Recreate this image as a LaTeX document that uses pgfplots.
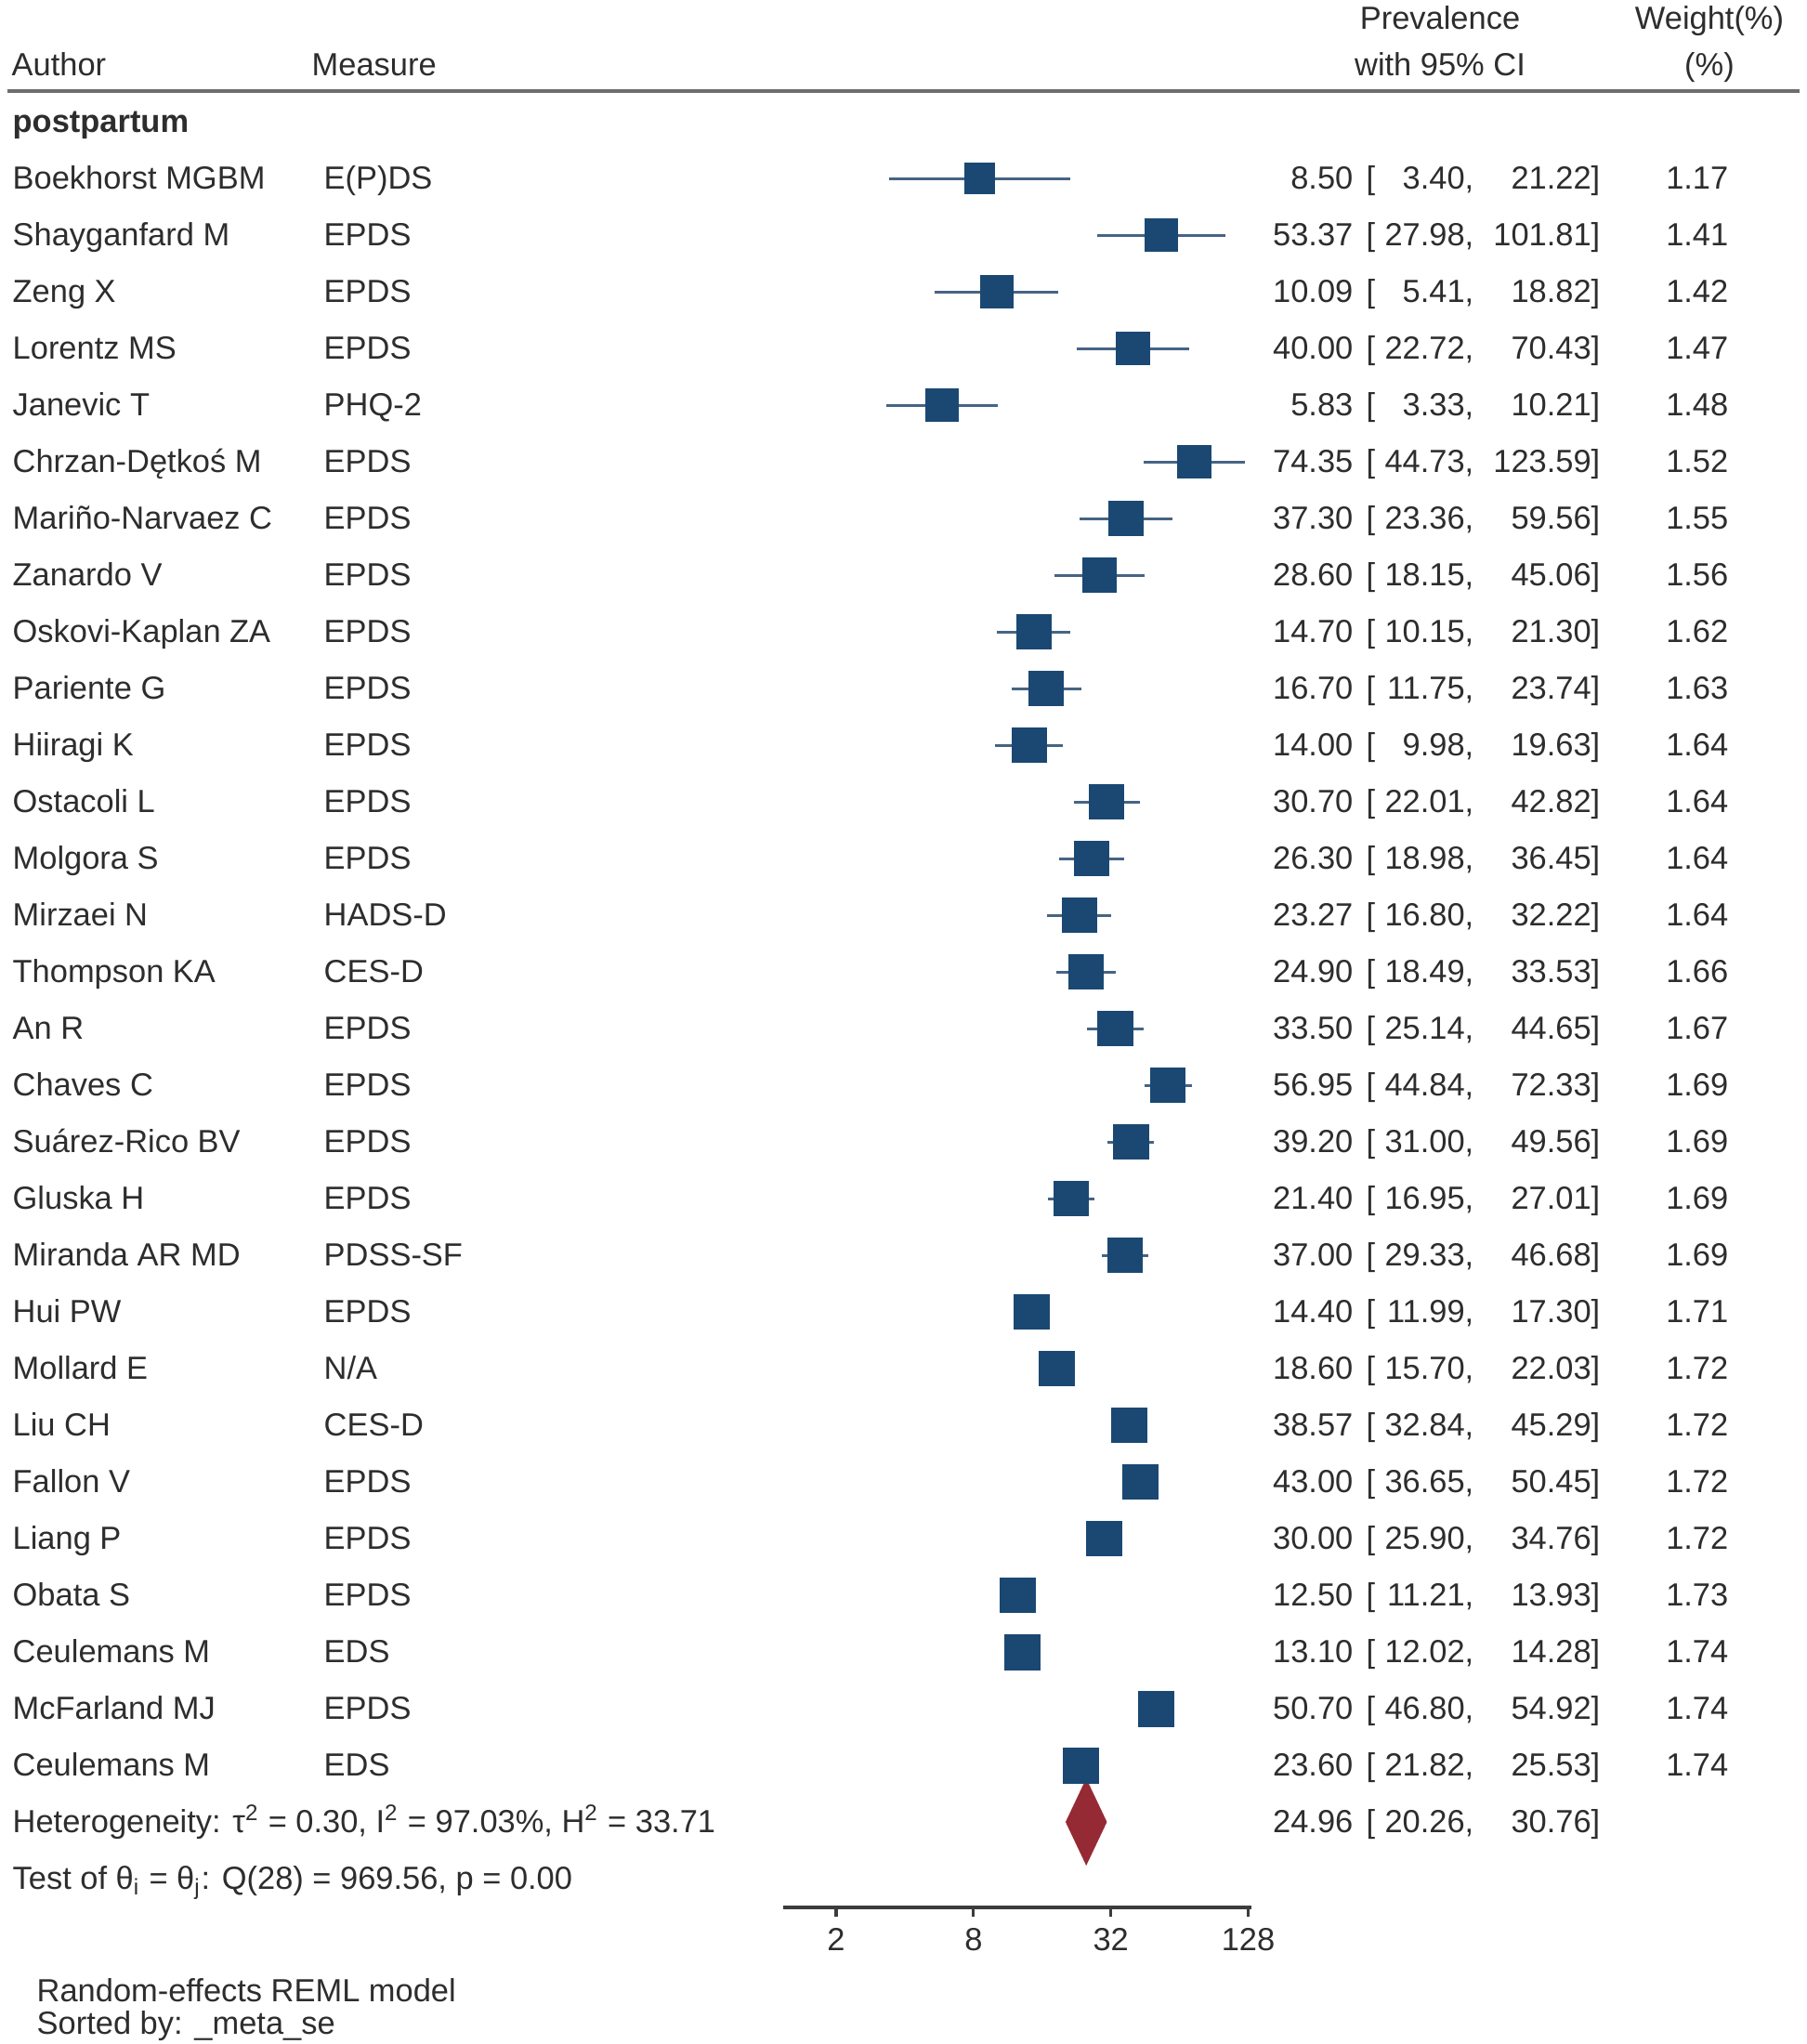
\documentclass[border=0pt]{standalone}
\usepackage{fontspec}
\setmainfont{Liberation Sans}
\usepackage{pgfplots}
\pgfplotsset{compat=1.18}
\definecolor{sqc}{RGB}{26,72,115}
\definecolor{cic}{RGB}{70,100,132}
\definecolor{dia}{RGB}{150,42,52}
\definecolor{txtc}{RGB}{45,45,45}
\definecolor{rulec}{RGB}{110,110,110}
\definecolor{axc}{RGB}{60,60,60}
\newcommand{\fs}{\fontsize{9.8pt}{11.8pt}\selectfont}
\tikzset{t/.style={inner sep=0pt, font=\fs, text=txtc, yshift=-3.3pt}}
\newcommand{\row}[7]{%
 \node[t,anchor=base west] at ({rel axis cs:-1.6468,0}|-{axis cs:2,#1}) {#2};
 \node[t,anchor=base west] at ({rel axis cs:-0.9821,0}|-{axis cs:2,#1}) {#3};
 \node[t,anchor=base east] at ({rel axis cs:1.2183,0}|-{axis cs:2,#1}) {#4};
 \node[t,anchor=base west] at ({rel axis cs:1.2440,0}|-{axis cs:2,#1}) {[};
 \node[t,anchor=base east] at ({rel axis cs:1.4762,0}|-{axis cs:2,#1}) {#5,};
 \node[t,anchor=base east] at ({rel axis cs:1.7460,0}|-{axis cs:2,#1}) {#6]};
 \node[t,anchor=base east] at ({rel axis cs:2.0198,0}|-{axis cs:2,#1}) {#7};
}
\begin{document}
\begin{tikzpicture}
\begin{axis}[
 at={(8.43cm,1.47cm)}, anchor=south west,
 scale only axis, width=5.04cm, height=20.53cm,
 xmode=log, log basis x=2,
 xmin=1.171, xmax=132.3,
 ymin=-2.148, ymax=31.508, y dir=reverse,
 axis x line*=bottom, axis y line=none,
 x axis line style={-, draw=axc, line width=0.9pt},
 xtick={2,8,32,128}, xticklabels={2,8,32,128},
 xminorticks=false,
 tick align=outside, major tick length=0.1cm,
 every tick/.style={draw=axc, line width=0.9pt},
 xticklabel style={font=\fs, text=txtc},
 clip=false,
]
% confidence intervals
\addplot[cic, line width=0.85pt, mark=none, unbounded coords=jump] coordinates {
 (3.40,1) (21.22,1) (nan,nan)
 (27.98,2) (101.81,2) (nan,nan)
 (5.41,3) (18.82,3) (nan,nan)
 (22.72,4) (70.43,4) (nan,nan)
 (3.33,5) (10.21,5) (nan,nan)
 (44.73,6) (123.59,6) (nan,nan)
 (23.36,7) (59.56,7) (nan,nan)
 (18.15,8) (45.06,8) (nan,nan)
 (10.15,9) (21.30,9) (nan,nan)
 (11.75,10) (23.74,10) (nan,nan)
 (9.98,11) (19.63,11) (nan,nan)
 (22.01,12) (42.82,12) (nan,nan)
 (18.98,13) (36.45,13) (nan,nan)
 (16.80,14) (32.22,14) (nan,nan)
 (18.49,15) (33.53,15) (nan,nan)
 (25.14,16) (44.65,16) (nan,nan)
 (44.84,17) (72.33,17) (nan,nan)
 (31.00,18) (49.56,18) (nan,nan)
 (16.95,19) (27.01,19) (nan,nan)
 (29.33,20) (46.68,20) (nan,nan)
 (11.99,21) (17.30,21) (nan,nan)
 (15.70,22) (22.03,22) (nan,nan)
 (32.84,23) (45.29,23) (nan,nan)
 (36.65,24) (50.45,24) (nan,nan)
 (25.90,25) (34.76,25) (nan,nan)
 (11.21,26) (13.93,26) (nan,nan)
 (12.02,27) (14.28,27) (nan,nan)
 (46.80,28) (54.92,28) (nan,nan)
 (21.82,29) (25.53,29)
};
% study estimates, square area proportional to weight
\addplot[only marks, mark=square*, scatter,
 scatter/use mapped color={draw=sqc, fill=sqc},
 mark options={line width=0pt},
 visualization depends on={\thisrow{w}\as\wt},
 scatter/@pre marker code/.append style={/tikz/mark size={0.14225*(6+32*sqrt(\wt/1.74))}}]
 table {
x y w
8.50 1 1.17
53.37 2 1.41
10.09 3 1.42
40.00 4 1.47
5.83 5 1.48
74.35 6 1.52
37.30 7 1.55
28.60 8 1.56
14.70 9 1.62
16.70 10 1.63
14.00 11 1.64
30.70 12 1.64
26.30 13 1.64
23.27 14 1.64
24.90 15 1.66
33.50 16 1.67
56.95 17 1.69
39.20 18 1.69
21.40 19 1.69
37.00 20 1.69
14.40 21 1.71
18.60 22 1.72
38.57 23 1.72
43.00 24 1.72
30.00 25 1.72
12.50 26 1.73
13.10 27 1.74
50.70 28 1.74
23.60 29 1.74
};
% overall estimate
\addplot[fill=dia, draw=none] coordinates {(20.26,30) (24.96,29.23) (30.76,30) (24.96,30.77)} -- cycle;

% header
\draw[rulec, line width=1.2pt] ({rel axis cs:-1.6567,0}|-{axis cs:2,-0.545}) -- ({rel axis cs:2.1706,0}|-{axis cs:2,-0.545});
\node[t,anchor=base west] at ({rel axis cs:-1.6488,0}|-{axis cs:2,-1}) {Author};
\node[t,anchor=base west] at ({rel axis cs:-1.0079,0}|-{axis cs:2,-1}) {Measure};
\node[t,anchor=base] at ({rel axis cs:1.4028,0}|-{axis cs:2,-1.82}) {Prevalence};
\node[t,anchor=base] at ({rel axis cs:1.4028,0}|-{axis cs:2,-1}) {with 95\% CI};
\node[t,anchor=base] at ({rel axis cs:1.9782,0}|-{axis cs:2,-1.82}) {Weight(\%)};
\node[t,anchor=base] at ({rel axis cs:1.9782,0}|-{axis cs:2,-1}) {(\%)};
\node[t,anchor=base west,font=\fs\bfseries] at ({rel axis cs:-1.6468,0}|-{axis cs:2,0}) {postpartum};

\row{1}{Boekhorst MGBM}{E(P)DS}{8.50}{3.40}{21.22}{1.17}
\row{2}{Shayganfard M}{EPDS}{53.37}{27.98}{101.81}{1.41}
\row{3}{Zeng X}{EPDS}{10.09}{5.41}{18.82}{1.42}
\row{4}{Lorentz MS}{EPDS}{40.00}{22.72}{70.43}{1.47}
\row{5}{Janevic T}{PHQ-2}{5.83}{3.33}{10.21}{1.48}
\row{6}{Chrzan-Dętkoś M}{EPDS}{74.35}{44.73}{123.59}{1.52}
\row{7}{Mariño-Narvaez C}{EPDS}{37.30}{23.36}{59.56}{1.55}
\row{8}{Zanardo V}{EPDS}{28.60}{18.15}{45.06}{1.56}
\row{9}{Oskovi-Kaplan ZA}{EPDS}{14.70}{10.15}{21.30}{1.62}
\row{10}{Pariente G}{EPDS}{16.70}{11.75}{23.74}{1.63}
\row{11}{Hiiragi K}{EPDS}{14.00}{9.98}{19.63}{1.64}
\row{12}{Ostacoli L}{EPDS}{30.70}{22.01}{42.82}{1.64}
\row{13}{Molgora S}{EPDS}{26.30}{18.98}{36.45}{1.64}
\row{14}{Mirzaei N}{HADS-D}{23.27}{16.80}{32.22}{1.64}
\row{15}{Thompson KA}{CES-D}{24.90}{18.49}{33.53}{1.66}
\row{16}{An R}{EPDS}{33.50}{25.14}{44.65}{1.67}
\row{17}{Chaves C}{EPDS}{56.95}{44.84}{72.33}{1.69}
\row{18}{Suárez-Rico BV}{EPDS}{39.20}{31.00}{49.56}{1.69}
\row{19}{Gluska H}{EPDS}{21.40}{16.95}{27.01}{1.69}
\row{20}{Miranda AR MD}{PDSS-SF}{37.00}{29.33}{46.68}{1.69}
\row{21}{Hui PW}{EPDS}{14.40}{11.99}{17.30}{1.71}
\row{22}{Mollard E}{N/A}{18.60}{15.70}{22.03}{1.72}
\row{23}{Liu CH}{CES-D}{38.57}{32.84}{45.29}{1.72}
\row{24}{Fallon V}{EPDS}{43.00}{36.65}{50.45}{1.72}
\row{25}{Liang P}{EPDS}{30.00}{25.90}{34.76}{1.72}
\row{26}{Obata S}{EPDS}{12.50}{11.21}{13.93}{1.73}
\row{27}{Ceulemans M}{EDS}{13.10}{12.02}{14.28}{1.74}
\row{28}{McFarland MJ}{EPDS}{50.70}{46.80}{54.92}{1.74}
\row{29}{Ceulemans M}{EDS}{23.60}{21.82}{25.53}{1.74}

% overall row
\node[t,anchor=base west] at ({rel axis cs:-1.6468,0}|-{axis cs:2,30}) {Heterogeneity: τ\textsuperscript{2} = 0.30, I\textsuperscript{2} = 97.03\%, H\textsuperscript{2} = 33.71};
\node[t,anchor=base east] at ({rel axis cs:1.2183,0}|-{axis cs:2,30}) {24.96};
\node[t,anchor=base west] at ({rel axis cs:1.2440,0}|-{axis cs:2,30}) {[};
\node[t,anchor=base east] at ({rel axis cs:1.4762,0}|-{axis cs:2,30}) {20.26,};
\node[t,anchor=base east] at ({rel axis cs:1.7460,0}|-{axis cs:2,30}) {30.76]};
\node[t,anchor=base west] at ({rel axis cs:-1.6468,0}|-{axis cs:2,31}) {Test of θ\textsubscript{i} = θ\textsubscript{j}: Q(28) = 969.56, p = 0.00};

% notes
\node[t,anchor=base west] at ({rel axis cs:-1.5952,0}|-{axis cs:2,32.98}) {Random-effects REML model};
\node[t,anchor=base west] at ({rel axis cs:-1.5952,0}|-{axis cs:2,33.56}) {Sorted by: \_meta\_se};
\end{axis}
\pgfresetboundingbox
\path[use as bounding box] (0,0) rectangle (19.44cm,22cm);
\end{tikzpicture}
\end{document}
